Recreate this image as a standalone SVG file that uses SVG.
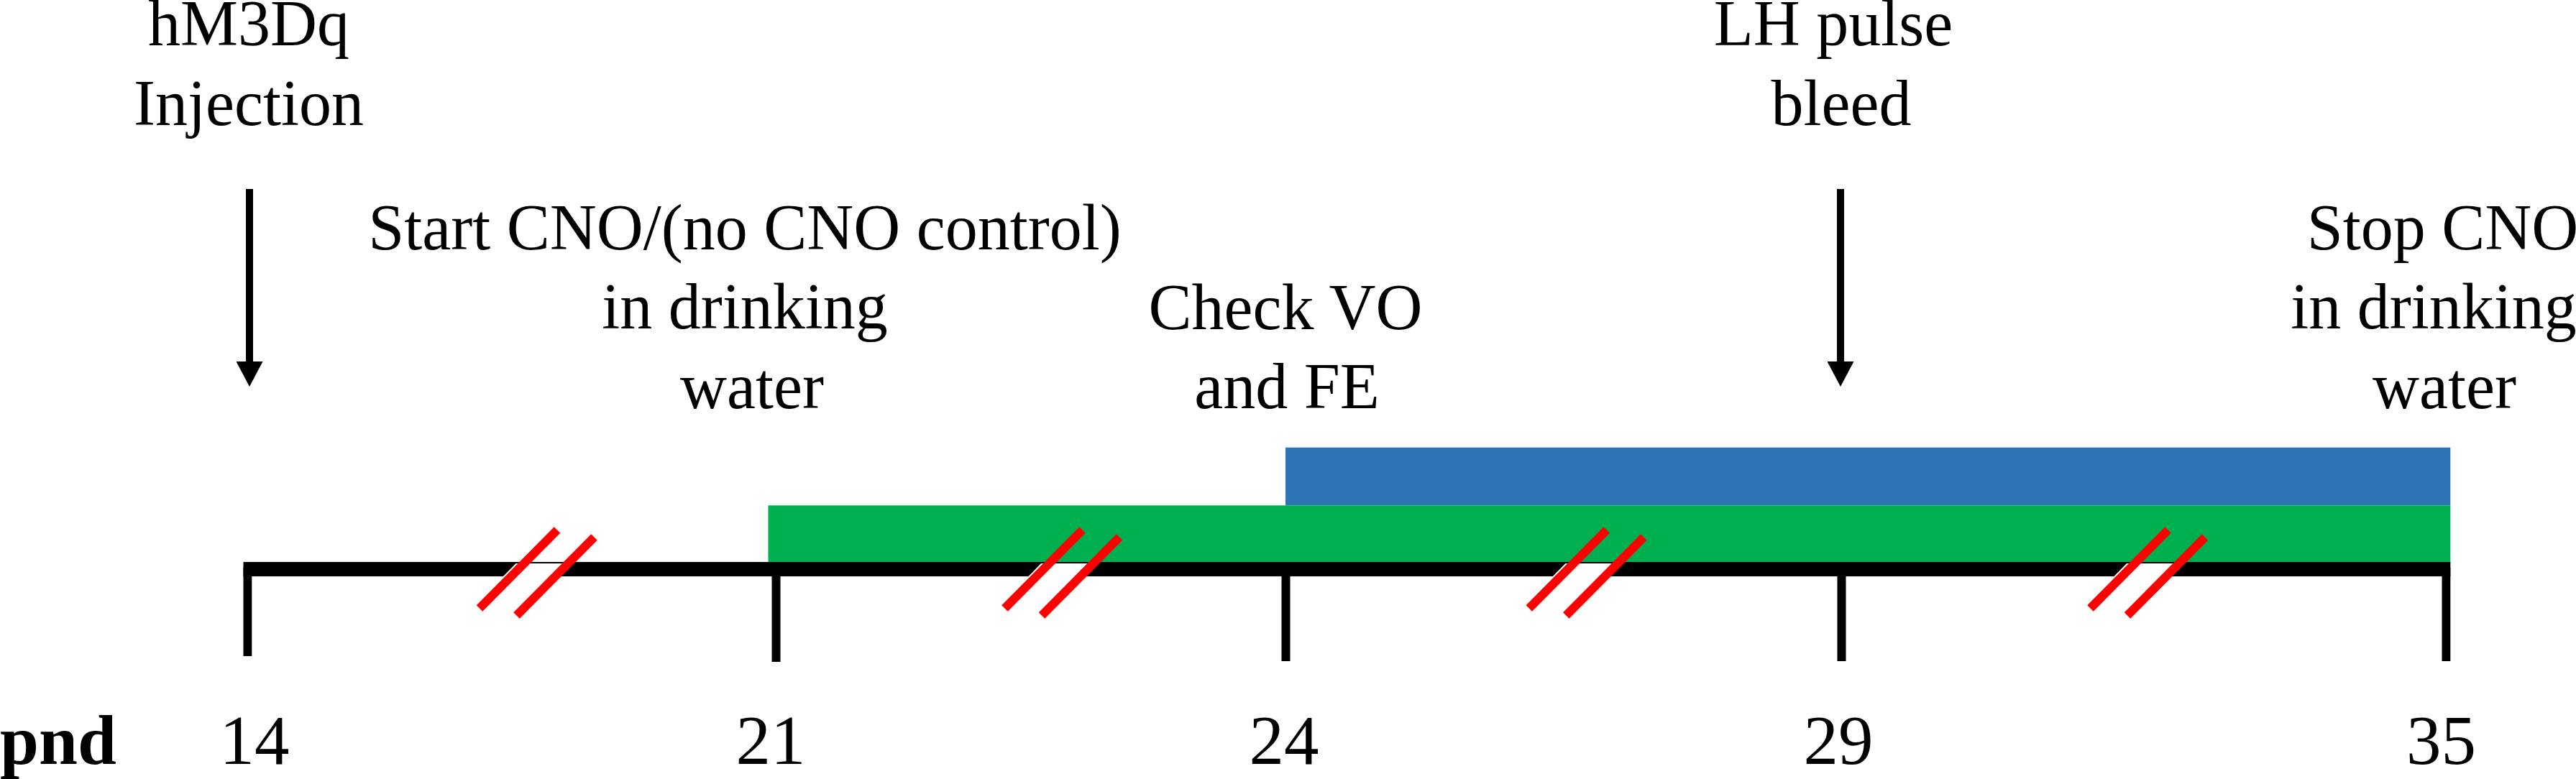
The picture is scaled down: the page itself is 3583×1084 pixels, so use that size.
<svg xmlns="http://www.w3.org/2000/svg" width="3583" height="1084" viewBox="0 0 3583 1084">
  <style>
    .lbl { font-family: "Liberation Serif", "Times New Roman", serif; font-size: 90px; fill: #000; text-anchor: middle; }
    .num { font-family: "Liberation Serif", "Times New Roman", serif; font-size: 97px; fill: #000; text-anchor: middle; }
    .pnd { font-family: "Liberation Serif", "Times New Roman", serif; font-size: 97px; font-weight: bold; fill: #000; }
    .tick { fill: #000; }
    .slash { stroke: #FF0000; stroke-width: 12; stroke-linecap: butt; fill: none; }
    .gap { fill: #FFFFFF; }
    .arrow { stroke: #000; stroke-width: 10; fill: none; marker-end: url(#head); }
  </style>
  <defs>
    <marker id="head" markerUnits="userSpaceOnUse" viewBox="0 0 35 37" markerWidth="35" markerHeight="37" refX="0" refY="18.5" orient="auto">
      <path d="M0,0 L35,18.5 L0,37 z" fill="#000"/>
    </marker>
  </defs>

  <rect width="3583" height="1084" fill="#FFFFFF"/>

  <g id="bar-blue">
    <rect x="1788" y="622.7" width="1620.3" height="80.6" fill="#2E75B6"/>
  </g>
  <g id="bar-green">
    <rect x="1068.5" y="703.3" width="2339.8" height="80.7" fill="#00B050"/>
  </g>

  <g id="timeline">
    <rect x="338.5" y="782" width="3069.8" height="20" fill="#000"/>
    <rect class="tick" x="338.5" y="790" width="11.8" height="123"/>
    <rect class="tick" x="1073.5" y="790" width="12" height="131"/>
    <rect class="tick" x="1782.5" y="790" width="12" height="130"/>
    <rect class="tick" x="2555.5" y="790" width="12" height="130"/>
    <rect class="tick" x="3396.5" y="790" width="11.8" height="130"/>
  </g>

  <g id="breaks">
    <g id="break-1" transform="translate(667,0)">
      <polygon class="gap" points="50.5,784 116,784 97,803.5 31.5,803.5"/>
      <line class="slash" x1="0" y1="846.5" x2="108" y2="737.5"/>
      <line class="slash" x1="51.5" y1="856.5" x2="159.5" y2="747.5"/>
    </g>
    <g id="break-2" transform="translate(1397.5,0)">
      <polygon class="gap" points="50.5,784 116,784 97,803.5 31.5,803.5"/>
      <line class="slash" x1="0" y1="846.5" x2="108" y2="737.5"/>
      <line class="slash" x1="51.5" y1="856.5" x2="159.5" y2="747.5"/>
    </g>
    <g id="break-3" transform="translate(2126.8,0)">
      <polygon class="gap" points="50.5,784 116,784 97,803.5 31.5,803.5"/>
      <line class="slash" x1="0" y1="846.5" x2="108" y2="737.5"/>
      <line class="slash" x1="51.5" y1="856.5" x2="159.5" y2="747.5"/>
    </g>
    <g id="break-4" transform="translate(2907.5,0)">
      <polygon class="gap" points="50.5,784 116,784 97,803.5 31.5,803.5"/>
      <line class="slash" x1="0" y1="846.5" x2="108" y2="737.5"/>
      <line class="slash" x1="51.5" y1="856.5" x2="159.5" y2="747.5"/>
    </g>
  </g>

  <g id="connectors">
    <line class="arrow" x1="347" y1="263" x2="347" y2="503"/>
    <line class="arrow" x1="2560" y1="263" x2="2560" y2="503"/>
  </g>

  <g id="label-injection">
    <text class="lbl" x="346" y="63">hM3Dq</text>
    <text class="lbl" x="346" y="174">Injection</text>
  </g>
  <g id="label-start">
    <text class="lbl" x="1036" y="346.5">Start CNO/(no CNO control)</text>
    <text class="lbl" x="1036" y="457">in drinking</text>
    <text class="lbl" x="1046" y="567.5">water</text>
  </g>
  <g id="label-check">
    <text class="lbl" x="1788" y="457.5">Check VO</text>
    <text class="lbl" x="1790" y="568">and FE</text>
  </g>
  <g id="label-lh">
    <text class="lbl" x="2550" y="63">LH pulse</text>
    <text class="lbl" x="2561" y="174">bleed</text>
  </g>
  <g id="label-stop">
    <text class="lbl" x="3397.5" y="346.5">Stop CNO</text>
    <text class="lbl" x="3385" y="457">in drinking</text>
    <text class="lbl" x="3400" y="567.5">water</text>
  </g>

  <g id="axis-labels">
    <text class="pnd" x="0" y="1062.7">pnd</text>
    <text class="num" x="354" y="1062.7">14</text>
    <text class="num" x="1072" y="1062.7">21</text>
    <text class="num" x="1786" y="1062.7">24</text>
    <text class="num" x="2557" y="1062.7">29</text>
    <text class="num" x="3395.5" y="1062.7">35</text>
  </g>
</svg>
